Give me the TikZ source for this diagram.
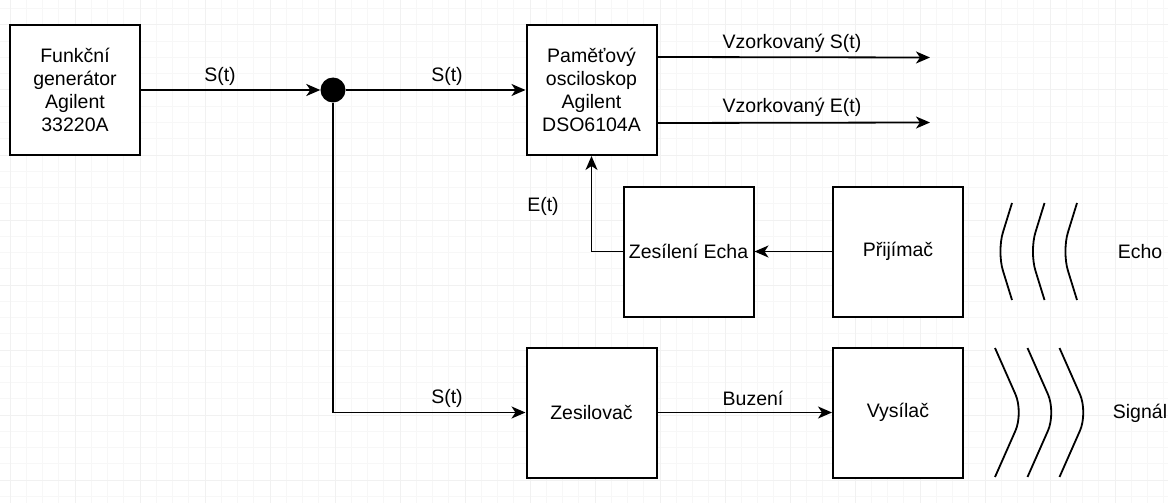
\documentclass[tikz,border=0pt]{standalone}
\usepackage{fontspec}
\setmainfont{Liberation Sans}
\usetikzlibrary{arrows.meta,calc}
\begin{document}
\begin{tikzpicture}[x=1pt,y=-1pt,
    blok/.style={draw,line width=2pt,fill=white,minimum width=130pt,minimum height=130pt,align=center,inner sep=2pt,font=\fontsize{19.5}{22.75}\selectfont},
    popis/.style={inner sep=0pt,font=\fontsize{19.5}{22.75}\selectfont},
    sipka/.style={line width=1.8pt,-{Stealth[length=14pt,width=12pt,inset=4pt]}},
    vlna/.style={line width=1.8pt,rounded corners=20pt}]
    \useasboundingbox (0,0) rectangle (1168,503);
    \fill[white] (0,0) rectangle (1168,503);
    \foreach \i in {0,...,72}
      \draw[gray!6,line width=1pt] ({-6.25+16.25*\i},0) -- ({-6.25+16.25*\i},503);
    \foreach \j in {0,...,30}
      \draw[gray!6,line width=1pt] (0,{8.75+16.25*\j}) -- (1168,{8.75+16.25*\j});
    \foreach \i in {0,...,17}
      \draw[gray!11,line width=1pt] ({10+65*\i},0) -- ({10+65*\i},503);
    \foreach \j in {0,...,7}
      \draw[gray!11,line width=1pt] (0,{25+65*\j}) -- (1168,{25+65*\j});

    \node[blok] (gen) at (75,90) {Funkční\\generátor\\Agilent\\33220A};
    \node[circle,fill=black,minimum size=25pt,inner sep=0pt] (uzel) at (333,90) {};
    \node[blok] (osc) at (591.5,90) {Paměťový\\osciloskop\\Agilent\\DSO6104A};
    \node[blok] (zes) at (688.5,251.5) {Zesílení Echa};
    \node[blok] (prij) at (898,251.5) {Přijímač};
    \node[blok] (amp) at (591.5,412.5) {Zesilovač};
    \node[blok] (vys) at (898,412.5) {Vysílač};
    \coordinate (vystS) at (930,57.5);
    \coordinate (vystE) at (930,122.5);

    \draw[sipka] (gen.east) -- (uzel.west);
    \draw[sipka] (uzel.east) -- (osc.west);
    \draw[sipka] (uzel.south) |- (amp.west);
    \draw[sipka] ($(osc.north east)!0.25!(osc.south east)$) -- (vystS);
    \draw[sipka] ($(osc.north east)!0.75!(osc.south east)$) -- (vystE);
    \draw[sipka] (prij.west) -- (zes.east);
    \draw[sipka] (zes.west) -| (osc.south);
    \draw[sipka] (amp.east) -- (vys.west);

    \node[popis] (lS1) at (220,76) {S(t)};
    \node[popis] (lS2) at (447,76) {S(t)};
    \node[popis] (lVS) at (792,43) {Vzorkovaný S(t)};
    \node[popis] (lVE) at (792,107) {Vzorkovaný E(t)};
    \node[popis] (lE) at (543,206) {E(t)};
    \node[popis] (lS3) at (447,398) {S(t)};
    \node[popis] (lBuz) at (753,398) {Buzení};
    \node[popis] (lEcho) at (1140,252) {Echo};
    \node[popis] (lSig) at (1140,413) {Signál};

    \foreach \d in {0,32.5,65}
      \draw[vlna] ({1012+\d},203) -- ({997+\d},251.5) -- ({1012+\d},300);
    \foreach \d in {0,32.5,64.5}
      \draw[vlna] ({995+\d},348) -- ({1023.5+\d},412.5) -- ({995+\d},477);
\end{tikzpicture}
\end{document}
